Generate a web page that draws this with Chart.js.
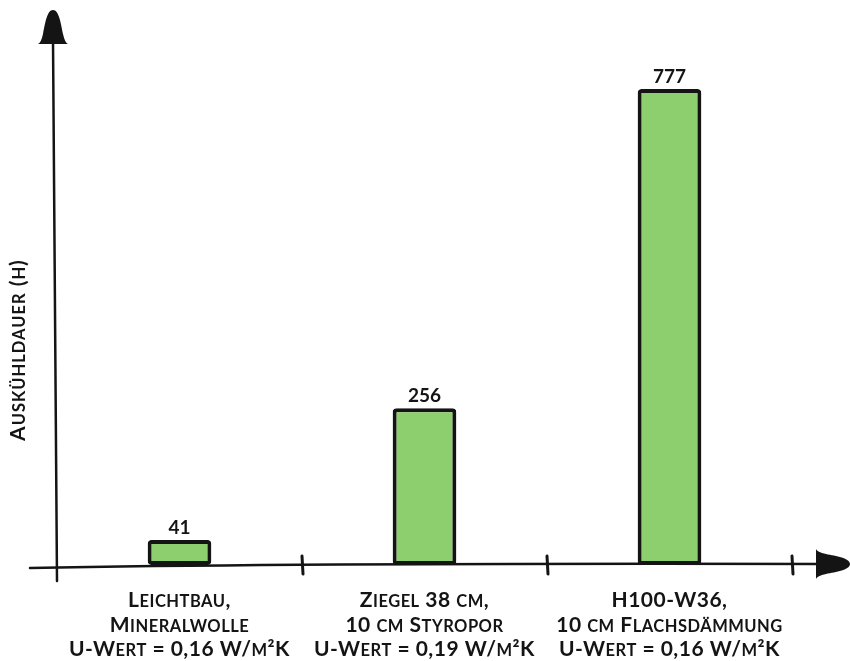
<!DOCTYPE html>
<html>
<head>
<meta charset="utf-8">
<script src="https://cdn.jsdelivr.net/npm/chart.js@4"></script>
<style>
  html, body { margin: 0; padding: 0; background: #fff; }
  #wrap { width: 850px; height: 661px; }
</style>
</head>
<body>
<div id="wrap"><canvas id="chart"></canvas></div>
<script>
// Daten
const kategorien = [
  ["Leichtbau,", "Mineralwolle", "U-Wert = 0,16 W/m²K"],
  ["Ziegel 38 cm,", "10 cm Styropor", "U-Wert = 0,19 W/m²K"],
  ["H100-W36,", "10 cm Flachsdämmung", "U-Wert = 0,16 W/m²K"]
];
const auskuehldauer = [41, 256, 777];
const achsenTitel = "Auskühldauer (h)";

const schrift = "Lato, 'Open Sans', sans-serif";
const tinte = "#141414";

// Kapitälchen von Hand: Kleinbuchstaben als kleinere Großbuchstaben
function kapitaelchen(ctx, text, x, y, gross, klein, abstand) {
  const teile = [];
  for (const ch of text) {
    const istKlein = ch !== ch.toUpperCase();
    const z = istKlein ? ch.toUpperCase() : ch;
    const g = istKlein ? klein : gross;
    const letzt = teile[teile.length - 1];
    if (letzt && letzt.g === g) letzt.t += z;
    else teile.push({ t: z, g });
  }
  ctx.textAlign = "left";
  ctx.textBaseline = "alphabetic";
  if ("letterSpacing" in ctx) ctx.letterSpacing = (abstand || 0) + "px";
  let breite = 0;
  teile.forEach(p => {
    ctx.font = "bold " + p.g + "px " + schrift;
    p.w = ctx.measureText(p.t).width;
    breite += p.w;
  });
  let cx = x - breite / 2;
  teile.forEach(p => {
    ctx.font = "bold " + p.g + "px " + schrift;
    ctx.fillText(p.t, cx, y);
    cx += p.w;
  });
}

// glockenförmige Pfeilspitze, Spitze bei (0,0), zeigt nach oben
function pfeil(ctx, x, y, winkel) {
  ctx.save();
  ctx.translate(x, y);
  ctx.rotate(winkel);
  ctx.beginPath();
  ctx.moveTo(0, 0);
  ctx.bezierCurveTo(6, 0, 8, 14, 10, 24);
  ctx.quadraticCurveTo(12, 33, 15, 34);
  ctx.lineTo(-15, 34);
  ctx.quadraticCurveTo(-12, 33, -10, 24);
  ctx.bezierCurveTo(-8, 14, -6, 0, 0, 0);
  ctx.fill();
  ctx.restore();
}

// Achsen mit Pfeilen und Beschriftung
const achsenPlugin = {
  id: "achsen",
  beforeDatasetsDraw(chart) {
    const { ctx, chartArea: a, scales } = chart;
    const y0 = scales.y.getPixelForValue(0);
    ctx.save();
    ctx.strokeStyle = tinte;
    ctx.fillStyle = tinte;
    ctx.lineWidth = 2.5;
    ctx.lineCap = "round";

    // x-Achse
    ctx.beginPath();
    ctx.moveTo(30, y0 + 3);
    ctx.quadraticCurveTo(300, y0 - 2, 825, y0 - 1);
    ctx.stroke();
    pfeil(ctx, 850, y0 - 1, Math.PI / 2);

    // y-Achse
    ctx.beginPath();
    ctx.moveTo(a.left, y0 + 16);
    ctx.quadraticCurveTo(a.left - 1, 300, a.left - 4, 40);
    ctx.stroke();
    pfeil(ctx, a.left - 4, 10, 0);

    // Striche an den Kategoriegrenzen
    ctx.lineWidth = 3;
    const n = kategorien.length;
    for (let i = 1; i <= n; i++) {
      const x = a.left + (a.right - a.left) * i / n;
      ctx.beginPath();
      ctx.moveTo(x, y0 - 9);
      ctx.lineTo(x + 1, y0 + 9);
      ctx.stroke();
    }

    // Kategorienamen
    kategorien.forEach((zeilen, i) => {
      const x = scales.x.getPixelForTick(i);
      zeilen.forEach((z, j) => kapitaelchen(ctx, z, x, y0 + 42 + j * 24.5, 21, 16.5, 0.5));
    });

    // Titel der y-Achse
    ctx.translate(25, 350);
    ctx.rotate(-Math.PI / 2);
    kapitaelchen(ctx, achsenTitel, 0, 0, 21, 16.5, 1);
    ctx.restore();
  },
  afterDatasetsDraw(chart) {
    const { ctx } = chart;
    const meta = chart.getDatasetMeta(0);
    ctx.save();
    ctx.fillStyle = tinte;
    ctx.font = "bold 19px " + schrift;
    ctx.textAlign = "center";
    ctx.textBaseline = "alphabetic";
    meta.data.forEach((bar, i) => {
      ctx.fillText(String(auskuehldauer[i]), bar.x, bar.y - 6);
    });
    ctx.restore();
  }
};

new Chart(document.getElementById("chart"), {
  type: "bar",
  data: {
    labels: kategorien,
    datasets: [{
      data: auskuehldauer,
      backgroundColor: "#8dcf6f",
      borderColor: tinte,
      borderWidth: 4,
      borderRadius: 4,
      borderSkipped: false,
      categoryPercentage: 1,
      barPercentage: 0.26
    }]
  },
  options: {
    responsive: true,
    maintainAspectRatio: false,
    animation: false,
    layout: { padding: { left: 57, right: 58, top: 75, bottom: 0 } },
    plugins: {
      legend: { display: false },
      tooltip: { enabled: false }
    },
    scales: {
      x: {
        grid: { display: false },
        border: { display: false },
        ticks: { display: false },
        afterFit(scale) { scale.height = 96; }
      },
      y: {
        min: 0,
        max: 800,
        grid: { display: false },
        border: { display: false },
        ticks: { display: false },
        afterFit(scale) { scale.width = 0; }
      }
    }
  },
  plugins: [achsenPlugin]
});
</script>
</body>
</html>
